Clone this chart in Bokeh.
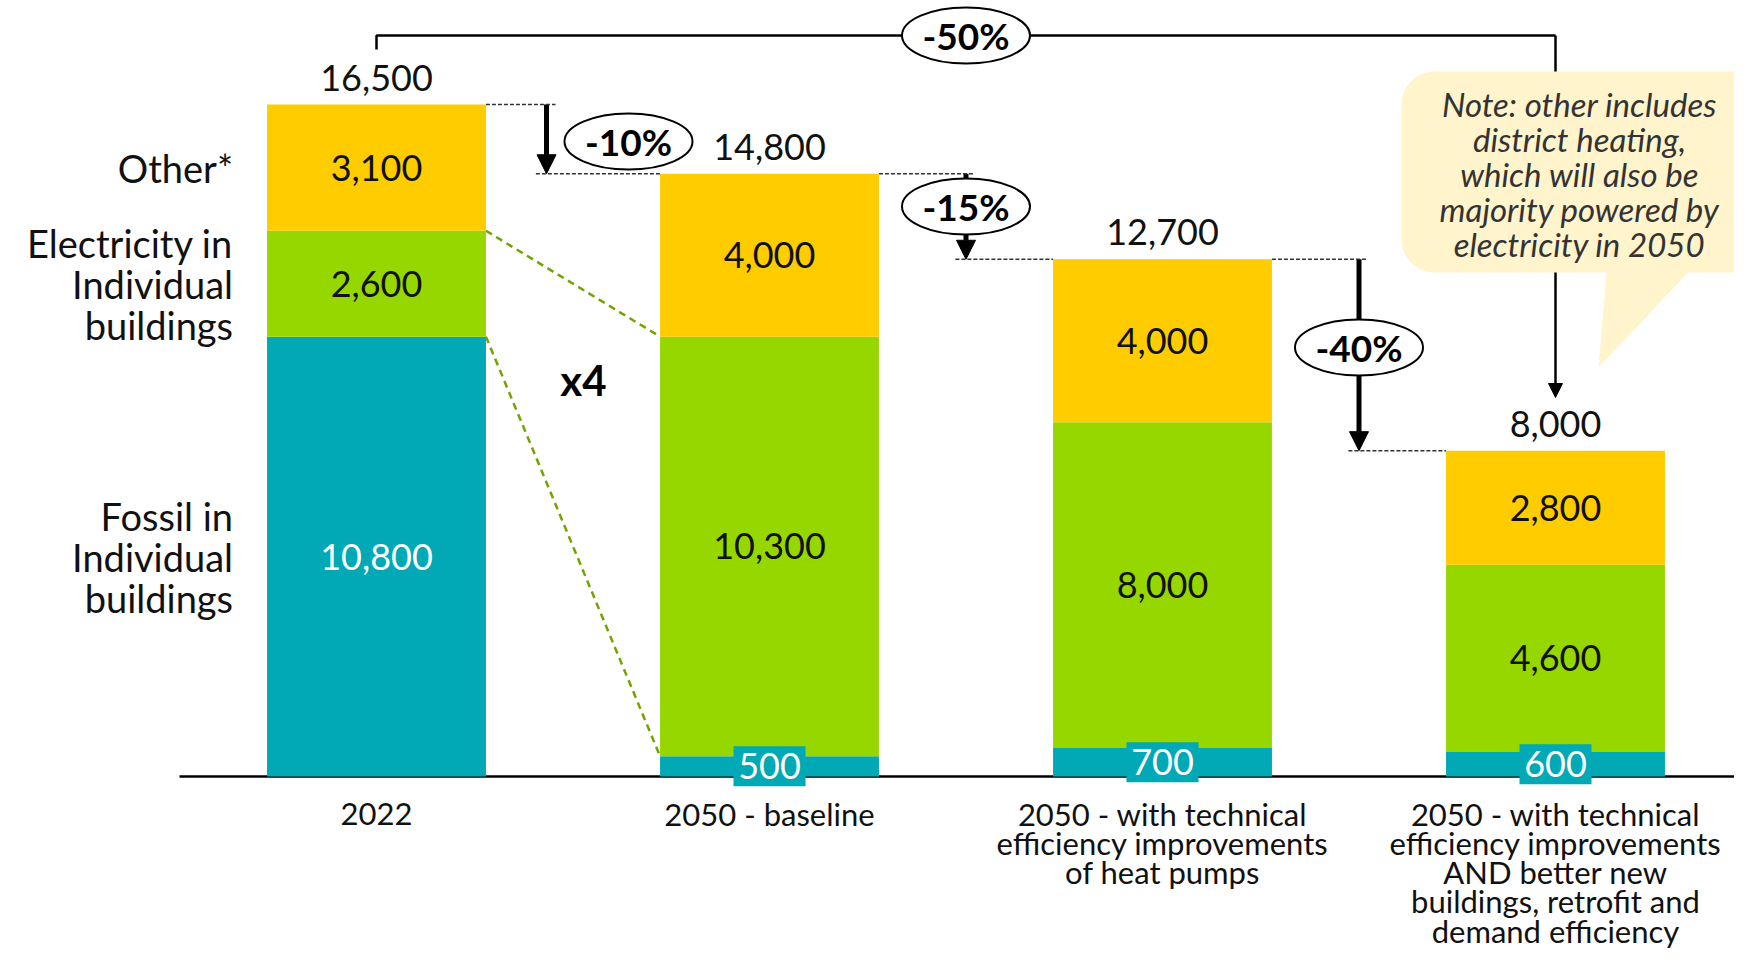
import numpy as np
from bokeh.plotting import figure
from bokeh.models import ColumnDataSource, Arrow, NormalHead, BoxAnnotation, PolyAnnotation, Label
from bokeh.core.properties import value
from bokeh.embed import file_html
from bokeh.resources import INLINE

# ---------------- data ----------------
scenarios = [
    "2022",
    "2050 - baseline",
    "2050 - with technical\nefficiency improvements\nof heat pumps",
    "2050 - with technical\nefficiency improvements\nAND better new\nbuildings, retrofit and\ndemand efficiency",
]
fossil = [10800, 500, 700, 600]
electricity = [2600, 10300, 8000, 4600]
other = [3100, 4000, 4000, 2800]
series_labels = ["Fossil in\nIndividual\nbuildings", "Electricity in\nIndividual\nbuildings", "Other*"]
step_changes = ["-10%", "-15%", "-40%"]
overall_change = "-50%"
electricity_multiplier = "x4"
note_lines = [
    "Note: other includes",
    "district heating,",
    "which will also be",
    "majority powered by",
    "electricity in 2050",
]

# ---------------- style ----------------
TEAL = "#00A9B5"
GREEN = "#97D700"
YELLOW = "#FFCC00"
NOTE_BG = "#FFF4CC"
INK = "#111111"
FONT = "Lato"
BAR_W = 0.557

W_PX, H_PX = 1734, 954
PX_PER_CAT = 393.0
X0_REF = 376.0
BASE_REF = 776.0
PX_PER_UNIT = 672.0 / 16500


def fx(px):
    return (px - X0_REF) / PX_PER_CAT


def fy(py):
    return (BASE_REF - py) / PX_PER_UNIT


x = list(range(len(scenarios)))
totals = [f + e + o for f, e, o in zip(fossil, electricity, other)]

p = figure(width=W_PX, height=H_PX, x_range=(fx(0), fx(W_PX)), y_range=(fy(H_PX), fy(0)),
           toolbar_location=None, output_backend="svg", x_axis_location=None,
           y_axis_location=None, min_border=0)
p.grid.visible = False
p.outline_line_color = None

# baseline
p.segment(x0=[fx(179)], y0=[0], x1=[fx(1760)], y1=[0], line_color="black", line_width=2.5)

# green dashed connectors (electricity x4)
p.segment(x0=[BAR_W / 2, BAR_W / 2], y0=[fossil[0] + electricity[0], fossil[0]],
          x1=[1 - BAR_W / 2, 1 - BAR_W / 2], y1=[fossil[1] + electricity[1], fossil[1]],
          line_color="#72A300", line_width=2.5, line_dash="7 5")

# dotted reference lines + arrows for step changes
arrow_x = [fx(546), 1.5, 2.5]
for i in range(3):
    ax = arrow_x[i]
    p.segment(x0=[i + BAR_W / 2, ax - 0.027], y0=[totals[i], totals[i + 1]],
              x1=[ax + 0.023, i + 1 - BAR_W / 2], y1=[totals[i], totals[i + 1]],
              line_color="#333333", line_width=1.6, line_dash="4 2")
    p.add_layout(Arrow(end=NormalHead(size=19, fill_color="black", line_color="black"),
                       x_start=ax, y_start=totals[i], x_end=ax, y_end=totals[i + 1],
                       line_color="black", line_width=5, level="underlay"))

# overall bracket
y_br = fy(35)
p.line(x=[0, 0, 3], y=[fy(49), y_br, y_br], line_color="black", line_width=2.5)
p.add_layout(Arrow(end=NormalHead(size=14, fill_color="black", line_color="black"),
                   x_start=3, y_start=y_br, x_end=3, y_end=fy(397),
                   line_color="black", line_width=2.5, level="underlay"))

# bars
src = ColumnDataSource(dict(x=x, fossil=fossil, electricity=electricity, other=other))
p.vbar_stack(["fossil", "electricity", "other"], x="x", width=BAR_W, source=src,
             fill_color=[TEAL, GREEN, YELLOW], line_color=None)

# segment labels
seg_x, seg_y, seg_t, seg_c = [], [], [], []
box_x, box_y = [], []
for i in x:
    bottoms = [0, fossil[i], fossil[i] + electricity[i]]
    vals = [fossil[i], electricity[i], other[i]]
    for k in range(3):
        mid = bottoms[k] + vals[k] / 2
        seg_x.append(i)
        seg_y.append(mid)
        seg_t.append(f"{vals[k]:,}")
        seg_c.append("white" if k == 0 else INK)
        if k == 0 and vals[k] < 2000:
            box_x.append(i)
            box_y.append(mid)

p.rect(x=box_x, y=box_y, width=72, height=40, width_units="screen", height_units="screen",
       fill_color=TEAL, line_color=None)
p.text(x=seg_x, y=seg_y, text=seg_t, text_color=seg_c, text_align="center",
       text_baseline="middle", text_font=value(FONT), text_font_size="36px")

# totals
p.text(x=x, y=totals, text=[f"{t:,}" for t in totals], y_offset=-27,
       text_align="center", text_baseline="middle", text_font=value(FONT),
       text_font_size="36px", text_color=INK)

# series labels at left of first bar (one text per line)
first_mids = [fossil[0] / 2, fossil[0] + electricity[0] / 2,
              fossil[0] + electricity[0] + other[0] / 2]
lx, ly, lt, lo = [], [], [], []
for lab, mid in zip(series_labels, first_mids):
    lines = lab.split("\n")
    n = len(lines)
    for k, ln in enumerate(lines):
        lx.append(-BAR_W / 2)
        ly.append(mid)
        lt.append(ln)
        lo.append((k - (n - 1) / 2) * 41)
p.text(x=lx, y=ly, text=lt, x_offset=-34, y_offset=lo,
       text_align="right", text_baseline="middle", text_font=value(FONT),
       text_font_size="38px", text_color=INK)

# category labels (one text per line)
cx, ct, co = [], [], []
for i, lab in enumerate(scenarios):
    for k, ln in enumerate(lab.split("\n")):
        cx.append(i)
        ct.append(ln)
        co.append(37 + k * 29.3)
p.text(x=cx, y=[0] * len(cx), text=ct, y_offset=co, text_align="center",
       text_baseline="middle", text_font=value(FONT), text_font_size="31px",
       text_color=INK)

# ellipses with percentages
ell_x = [fx(628), 1.5, 2.5, 1.5]
ell_y = [fy(141), fy(206), fy(347), y_br]
ell_t = step_changes + [overall_change]
p.ellipse(x=ell_x, y=ell_y, width=128, height=56, width_units="screen", height_units="screen",
          fill_color="white", line_color="black", line_width=2)
p.text(x=ell_x, y=ell_y, text=ell_t, text_align="center", text_baseline="middle",
       text_font=value(FONT), text_font_style="bold", text_font_size="37px", text_color="black")

# x4
p.text(x=[fx(583)], y=[fy(379)], text=[electricity_multiplier], text_align="center",
       text_baseline="middle", text_font=value(FONT), text_font_style="bold",
       text_font_size="42px", text_color="black")

# note bubble
p.add_layout(BoxAnnotation(left=fx(1401), right=fx(1768), top=fy(71), bottom=fy(272),
                           fill_color=NOTE_BG, fill_alpha=1, line_color=None, border_radius=33))
p.add_layout(PolyAnnotation(xs=[fx(1607), fx(1697), fx(1598)], ys=[fy(262), fy(262), fy(367)],
                            fill_color=NOTE_BG, fill_alpha=1, line_color=None))
note_y = [103, 138, 173, 208, 243]
for line, yy in zip(note_lines, note_y):
    p.add_layout(Label(x=fx(1579), y=fy(yy), text=line, text_align="center",
                       text_baseline="middle", text_font=FONT, text_font_style="italic",
                       text_font_size="33px", text_color="#333333"))

open("out.html", "w").write(file_html(p, INLINE))
